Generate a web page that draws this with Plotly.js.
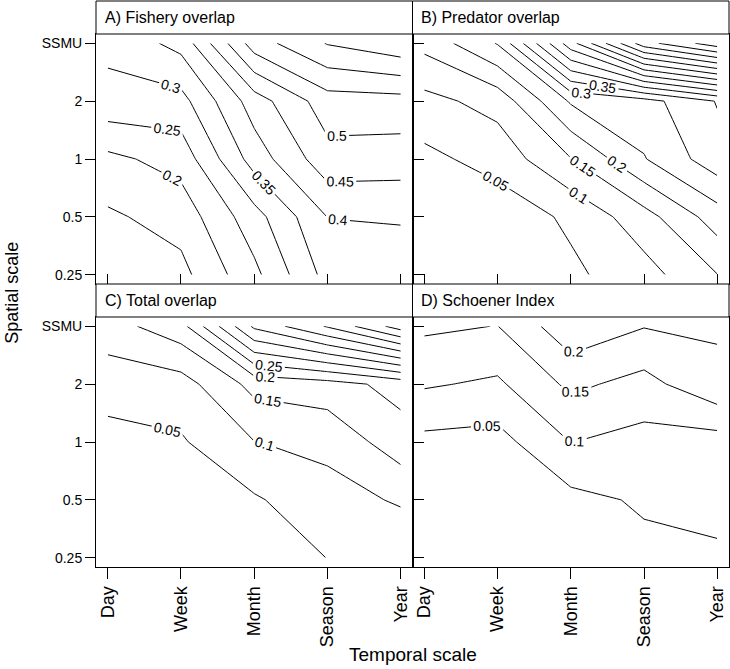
<!DOCTYPE html>
<html>
<head>
<meta charset="utf-8">
<script src="https://cdn.plot.ly/plotly-3.0.1.min.js"></script>
<style>
  html, body { margin: 0; padding: 0; background: #ffffff; }
  #chart { width: 730px; height: 669px; }
</style>
</head>
<body>
<div id="chart"></div>
<script>
// Axis categories
const temporal = ['Day', 'Week', 'Month', 'Season', 'Year'];
const spatial = ['0.25', '0.5', '1', '2', 'SSMU'];

// Grid values: one row per spatial scale (0.25 ... SSMU), one column per temporal scale (Day ... Year)
const fisheryOverlap = [
  [0.120, 0.135, 0.237, 0.368, 0.370],
  [0.142, 0.170, 0.280, 0.401, 0.405],
  [0.1875, 0.220, 0.372, 0.482, 0.476],
  [0.284, 0.2825, 0.425, 0.5275, 0.531],
  [0.312, 0.366, 0.576, 0.653, 0.6875]
];
const predatorOverlap = [
  [0.005, 0.010, 0.040, 0.080, 0.149],
  [0.015, 0.020, 0.059, 0.130, 0.225],
  [0.037, 0.069, 0.148, 0.247, 0.330],
  [0.0845, 0.118, 0.256, 0.280, 0.353],
  [0.165, 0.253, 0.530, 0.780, 0.880]
];
const totalOverlap = [
  [0.010, 0.015, 0.030, 0.0505, 0.065],
  [0.020, 0.025, 0.044, 0.083, 0.105],
  [0.034, 0.0445, 0.099, 0.112, 0.179],
  [0.070, 0.0786, 0.166, 0.180, 0.217],
  [0.129, 0.181, 0.410, 0.505, 0.625]
];
const schoenerIndex = [
  [0.010, 0.010, 0.020, 0.037, 0.045],
  [0.020, 0.020, 0.0356, 0.0565, 0.060],
  [0.037, 0.032, 0.101, 0.0825, 0.078],
  [0.1055, 0.0917, 0.161, 0.133, 0.189],
  [0.159, 0.149, 0.235, 0.202, 0.205]
];
const panelTitles = ['A) Fishery overlap', 'B) Predator overlap', 'C) Total overlap', 'D) Schoener Index'];

// Contour levels drawn in each panel, and the levels that carry a label
const fisheryLevels = [0.15, 0.2, 0.25, 0.3, 0.35, 0.4, 0.45, 0.5, 0.55, 0.6, 0.65];
const fisheryLabelled = [0.15, 0.2, 0.25, 0.3, 0.35, 0.4, 0.45, 0.5, 0.65];
const predatorLevels = [0.05, 0.1, 0.15, 0.2, 0.25, 0.3, 0.35, 0.4, 0.45, 0.5, 0.55, 0.6, 0.65, 0.7, 0.75, 0.8, 0.85];
const predatorLabelled = [0.05, 0.1, 0.15, 0.2, 0.3, 0.35, 0.75];
const totalLevels = [0.05, 0.1, 0.15, 0.2, 0.25, 0.3, 0.35, 0.4, 0.45, 0.5, 0.55, 0.6];
const totalLabelled = [0.05, 0.1, 0.15, 0.2, 0.25];
const schoenerLevels = [0.05, 0.1, 0.15, 0.2];
const schoenerLabelled = [0.05, 0.1, 0.15, 0.2];

const FONT = 'Liberation Sans, Arial, Helvetica, sans-serif';
const xIdx = temporal.map((_, i) => i);
const yIdx = spatial.map((_, i) => i);

function levelTrace(z, level, labelled, xa, ya) {
  return {
    type: 'contour',
    x: xIdx, y: yIdx, z: z,
    xaxis: xa, yaxis: ya,
    autocontour: false,
    contours: {
      coloring: 'none', start: level, end: level + 0.001, size: 0.05,
      showlabels: labelled, labelformat: '.2~f',
      labelfont: { family: FONT, size: 14, color: '#000000' }
    },
    line: { color: '#000000', width: 1, smoothing: 0 },
    showscale: false,
    hoverinfo: 'skip'
  };
}

const panels = [
  { z: fisheryOverlap, levels: fisheryLevels, lab: fisheryLabelled, xa: 'x', ya: 'y' },
  { z: predatorOverlap, levels: predatorLevels, lab: predatorLabelled, xa: 'x2', ya: 'y2' },
  { z: totalOverlap, levels: totalLevels, lab: totalLabelled, xa: 'x3', ya: 'y3' },
  { z: schoenerIndex, levels: schoenerLevels, lab: schoenerLabelled, xa: 'x4', ya: 'y4' }
];

const data = [];
panels.forEach(p => {
  p.levels.forEach(L => {
    data.push(levelTrace(p.z, L, p.lab.indexOf(L) >= 0, p.xa, p.ya));
  });
});

const RANGE = [-0.16, 4.16];
function xAxis(domain, anchor, outside) {
  return {
    domain: domain, anchor: anchor, range: RANGE,
    tickvals: xIdx, ticktext: temporal,
    showticklabels: outside, tickangle: -90,
    ticks: outside ? 'outside' : 'inside', ticklen: outside ? 11 : 10,
    tickcolor: '#000', tickwidth: 1,
    tickfont: { family: FONT, size: 18, color: '#000' },
    showgrid: false, zeroline: false,
    showline: true, mirror: true, linecolor: '#000', linewidth: 1
  };
}
function yAxis(domain, anchor, outside) {
  return {
    domain: domain, anchor: anchor, range: RANGE,
    tickvals: yIdx, ticktext: spatial,
    showticklabels: outside,
    ticks: outside ? 'outside' : 'inside', ticklen: outside ? 10 : 11,
    tickcolor: '#000', tickwidth: 1,
    tickfont: { family: FONT, size: 14, color: '#000' },
    showgrid: false, zeroline: false,
    showline: true, mirror: true, linecolor: '#000', linewidth: 1
  };
}

// Vertical geometry (px): strip 33, panel 250, strip 33, panel 250 = 566
const H = 566;
const pC = [0, 250 / H];
const sC = [250 / H, 283 / H];
const pA = [283 / H, 533 / H];
const sA = [533 / H, 1];

const strips = [
  { x: [0, 0.5], y: sA, t: panelTitles[0] },
  { x: [0.5, 1], y: sA, t: panelTitles[1] },
  { x: [0, 0.5], y: sC, t: panelTitles[2] },
  { x: [0.5, 1], y: sC, t: panelTitles[3] }
];

const shapes = strips.map(s => ({
  type: 'rect', xref: 'paper', yref: 'paper',
  x0: s.x[0], x1: s.x[1], y0: s.y[0], y1: s.y[1],
  line: { color: '#000', width: 1 }, fillcolor: '#ffffff', layer: 'above'
}));

const annotations = strips.map(s => ({
  xref: 'paper', yref: 'paper',
  x: s.x[0] + 0.011, y: (s.y[0] + s.y[1]) / 2,
  xanchor: 'left', yanchor: 'middle', showarrow: false,
  text: s.t, font: { family: FONT, size: 16, color: '#000' }
}));
annotations.push({
  xref: 'paper', yref: 'paper', x: 0.5, y: -0.155,
  xanchor: 'center', yanchor: 'middle', showarrow: false,
  text: 'Temporal scale', font: { family: FONT, size: 19, color: '#000' }
});
annotations.push({
  xref: 'paper', yref: 'paper', x: -0.133, y: 0.484,
  xanchor: 'center', yanchor: 'middle', showarrow: false, textangle: -90,
  text: 'Spatial scale', font: { family: FONT, size: 18, color: '#000' }
});

const layout = {
  width: 730, height: 669,
  margin: { l: 96, r: 1, t: 1, b: 102, pad: 0 },
  paper_bgcolor: '#ffffff', plot_bgcolor: '#ffffff',
  showlegend: false,
  font: { family: FONT, color: '#000' },
  xaxis: xAxis([0, 0.5], 'y', false),
  yaxis: yAxis(pA, 'x', true),
  xaxis2: xAxis([0.5, 1], 'y2', false),
  yaxis2: yAxis(pA, 'x2', false),
  xaxis3: xAxis([0, 0.5], 'y3', true),
  yaxis3: yAxis(pC, 'x3', true),
  xaxis4: xAxis([0.5, 1], 'y4', true),
  yaxis4: yAxis(pC, 'x4', false),
  shapes: shapes,
  annotations: annotations
};

Plotly.newPlot('chart', data, layout, { staticPlot: true, displayModeBar: false });
</script>
</body>
</html>
